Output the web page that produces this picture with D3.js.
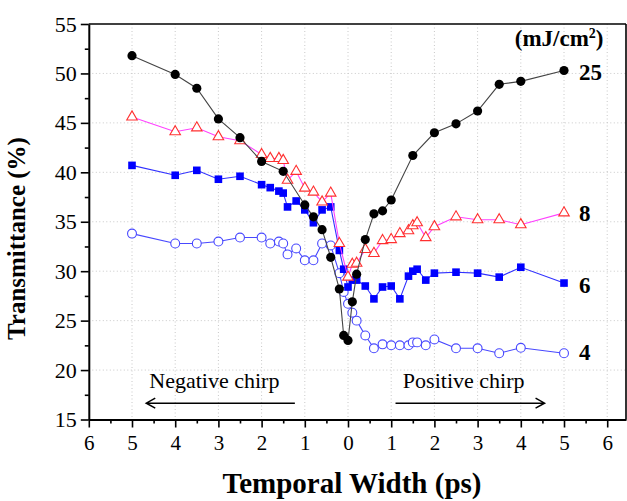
<!DOCTYPE html>
<html>
<head>
<meta charset="utf-8">
<script src="https://cdn.jsdelivr.net/npm/d3@7"></script>
<style>
  body { margin: 0; background: #fff; }
  text { font-family: "Liberation Serif", "Times New Roman", serif; }
</style>
</head>
<body>
<div id="chart-area"></div>
<script>
// Data (x = temporal width, negative = negative chirp)
const fluences = ["4", "6", "8", "25"];

const x4 = [-5,-4,-3.5,-3,-2.5,-2,-1.8,-1.6,-1.5,-1.4,-1.2,-1,-0.8,-0.6,-0.4,-0.2,-0.1,0,0.1,0.2,0.4,0.6,0.8,1,1.2,1.4,1.5,1.6,1.8,2,2.5,3,3.5,4,5];
const y4 = [33.8,32.8,32.8,33.0,33.4,33.4,32.8,33.0,32.8,31.7,32.3,31.1,31.1,32.8,32.6,29.8,27.9,26.7,25.8,25.0,23.5,22.2,22.6,22.5,22.5,22.5,22.8,22.8,22.5,23.1,22.2,22.2,21.7,22.25,21.7];

const x6 = [-5,-4,-3.5,-3,-2.5,-2,-1.8,-1.6,-1.5,-1.4,-1.2,-1,-0.8,-0.6,-0.4,-0.2,-0.1,0,0.1,0.2,0.4,0.6,0.8,1,1.2,1.4,1.5,1.6,1.8,2,2.5,3,3.5,4,5];
const y6 = [40.7,39.7,40.2,39.3,39.6,38.75,38.45,38.1,37.9,36.5,37.1,36.2,34.9,36.2,36.5,32.1,30.2,28.4,29.1,29.1,28.5,27.2,28.4,28.5,27.2,29.5,30.0,30.2,29.1,29.8,29.9,29.8,29.4,30.4,28.8];

const x8 = [-5,-4,-3.5,-3,-2.5,-2,-1.8,-1.6,-1.5,-1.4,-1.2,-1,-0.8,-0.6,-0.4,-0.2,0,0.1,0.2,0.4,0.6,0.8,1,1.2,1.4,1.5,1.6,1.8,2,2.5,3,3.5,4,5];
const y8 = [45.6,44.1,44.5,43.6,43.2,41.8,41.4,41.4,41.2,39.2,40.1,38.4,38.0,37.0,37.9,32.8,29.4,30.7,30.8,32.2,31.8,33.1,33.2,33.8,34.1,34.6,34.9,33.4,34.5,35.5,35.2,35.2,34.7,35.9];

const x25 = [-5,-4,-3.5,-3,-2.5,-2,-1.5,-1,-0.8,-0.6,-0.4,-0.2,-0.1,0,0.1,0.2,0.4,0.6,0.8,1,1.5,2,2.5,3,3.5,4,5];
const y25 = [51.8,49.9,48.5,45.4,43.5,41.1,40.1,36.7,35.5,34.2,31.4,28.2,23.5,23.0,26.9,29.7,33.2,35.8,36.1,37.2,41.7,44.0,44.9,46.2,48.9,49.2,50.3];

const xTicks = [-6,-5,-4,-3,-2,-1,0,1,2,3,4,5,6];
const yTicks = [15,20,25,30,35,40,45,50,55];

const margin = { top: 24, right: 1, bottom: 81.5, left: 88.8 };
const width = 627 - margin.left - margin.right;
const height = 501 - margin.top - margin.bottom;

const svg = d3.select("#chart-area")
  .append("svg")
    .attr("width", 627)
    .attr("height", 501)
  .append("g")
    .attr("transform", `translate(${margin.left},${margin.top})`);

// Scales
const xScale = d3.scaleLinear()
  .domain([-6, 6.435])
  .range([0, width]);

const yScale = d3.scaleLinear()
  .domain([15, 55])
  .range([height, 0]);

// Grid
svg.append("g")
  .selectAll("line")
  .data(xTicks.filter(d => d > -6))
  .enter().append("line")
    .attr("x1", d => xScale(d)).attr("x2", d => xScale(d))
    .attr("y1", 0).attr("y2", height)
    .attr("stroke", "#c8c8c8")
    .attr("stroke-dasharray", "1,2.5");

svg.append("g")
  .selectAll("line")
  .data(yTicks.filter(d => d > 15 && d < 55))
  .enter().append("line")
    .attr("x1", 0).attr("x2", width)
    .attr("y1", d => yScale(d)).attr("y2", d => yScale(d))
    .attr("stroke", "#c8c8c8")
    .attr("stroke-dasharray", "1,2.5");

// Frame top / right
svg.append("line")
  .attr("x1", 0).attr("x2", width).attr("y1", 0).attr("y2", 0)
  .attr("stroke", "#000").attr("stroke-width", 1.6);
svg.append("line")
  .attr("x1", width).attr("x2", width).attr("y1", 0).attr("y2", height)
  .attr("stroke", "#000").attr("stroke-width", 1.6);

// Axes
const xMinor = d3.range(-5.5, 6.5, 1);
const yMinor = d3.range(17.5, 55, 5);

const xAxisGroup = svg.append("g")
  .attr("transform", `translate(0,${height})`);
xAxisGroup.call(d3.axisBottom(xScale).tickValues(xMinor).tickSize(4).tickFormat(""));
xAxisGroup.call(g => g.select(".domain").remove());
const xMajor = svg.append("g")
  .attr("transform", `translate(0,${height})`)
  .call(d3.axisBottom(xScale)
    .tickValues(xTicks)
    .tickSize(8)
    .tickSizeOuter(0)
    .tickPadding(8)
    .tickFormat(d => Math.abs(d)));

const yAxisGroup = svg.append("g");
yAxisGroup.call(d3.axisLeft(yScale).tickValues(yMinor).tickSize(4).tickFormat(""));
yAxisGroup.call(g => g.select(".domain").remove());
const yMajor = svg.append("g")
  .call(d3.axisLeft(yScale)
    .tickValues(yTicks)
    .tickSize(8)
    .tickSizeOuter(0)
    .tickPadding(4));

svg.selectAll(".tick line").attr("stroke", "#000").attr("stroke-width", 1.6);
svg.selectAll(".domain").attr("stroke", "#000").attr("stroke-width", 2);
xMajor.selectAll(".tick text")
  .style("font-size", "21px")
  .style("font-family", "Liberation Serif")
  .attr("fill", "#000");
yMajor.selectAll(".tick text")
  .style("font-size", "22px")
  .style("font-family", "Liberation Serif")
  .attr("fill", "#000");

// Axis titles
svg.append("text")
  .attr("x", xScale(0) + 4)
  .attr("y", height + 73)
  .style("text-anchor", "middle")
  .style("font-size", "29px")
  .style("font-weight", "bold")
  .text("Temporal Width (ps)");

svg.append("text")
  .attr("transform", "rotate(-90)")
  .attr("x", -yScale(33.3))
  .attr("y", -64)
  .style("text-anchor", "middle")
  .style("font-size", "25px")
  .style("font-weight", "bold")
  .text("Transmittance (%)");

// Series
const seriesList = [
  { name: "4", xs: x4, ys: y4, line: "#4848ff", symbol: d3.symbolCircle, size: 62, fill: "#fff", stroke: "#4848ff" },
  { name: "6", xs: x6, ys: y6, line: "#3030ff", symbol: d3.symbolSquare, size: 58, fill: "#0000ff", stroke: "none" },
  { name: "8", xs: x8, ys: y8, line: "#ff40ff", symbol: d3.symbolTriangle, size: 48, fill: "#fff", stroke: "#ff3030" },
  { name: "25", xs: x25, ys: y25, line: "#444", symbol: d3.symbolCircle, size: 66, fill: "#000", stroke: "none" }
];

const line = d3.line()
  .x(d => xScale(d.x))
  .y(d => yScale(d.y));

seriesList.forEach(s => {
  const pts = s.xs.map((x, i) => ({ x: x, y: s.ys[i] }));
  const g = svg.append("g");
  g.append("path")
    .datum(pts)
    .attr("d", line)
    .attr("fill", "none")
    .attr("stroke", s.line)
    .attr("stroke-width", 1.1);
  g.selectAll("path.pt")
    .data(pts)
    .enter().append("path")
      .attr("class", "pt")
      .attr("transform", d => `translate(${xScale(d.x)},${yScale(d.y)})`)
      .attr("d", d3.symbol().type(s.symbol).size(s.size))
      .attr("fill", s.fill)
      .attr("stroke", s.stroke)
      .attr("stroke-width", 1.1);
});

// Series labels on the right
const labelY = { "25": 50.2, "8": 35.9, "6": 28.6, "4": 21.8 };
fluences.forEach(f => {
  svg.append("text")
    .attr("x", xScale(5.35))
    .attr("y", yScale(labelY[f]))
    .attr("dy", "0.35em")
    .style("font-size", "23px")
    .style("font-weight", "bold")
    .text(f);
});

const unit = svg.append("text")
  .attr("x", xScale(3.86))
  .attr("y", yScale(52.8))
  .style("font-size", "23px")
  .style("font-weight", "bold");
unit.append("tspan").text("(mJ/cm");
unit.append("tspan").attr("dy", -8).style("font-size", "14px").text("2");
unit.append("tspan").attr("dy", 8).text(")");

// Chirp annotations
svg.append("text")
  .attr("x", xScale(-4.6))
  .attr("y", yScale(18.2))
  .style("font-size", "22px")
  .text("Negative chirp");

svg.append("text")
  .attr("x", xScale(1.27))
  .attr("y", yScale(18.2))
  .style("font-size", "22px")
  .text("Positive chirp");

const arrowY = yScale(16.65);
const arrows = [
  { from: -1.23, to: -4.67 },
  { from: 1.1, to: 4.55 }
];
arrows.forEach(a => {
  const x0 = xScale(a.from), x1 = xScale(a.to);
  const dir = x1 > x0 ? -1 : 1;
  svg.append("path")
    .attr("d", `M${x0},${arrowY}L${x1},${arrowY}M${x1 + dir * 9},${arrowY - 5}L${x1},${arrowY}L${x1 + dir * 9},${arrowY + 5}`)
    .attr("fill", "none")
    .attr("stroke", "#000")
    .attr("stroke-width", 1.5);
});
</script>
</body>
</html>
